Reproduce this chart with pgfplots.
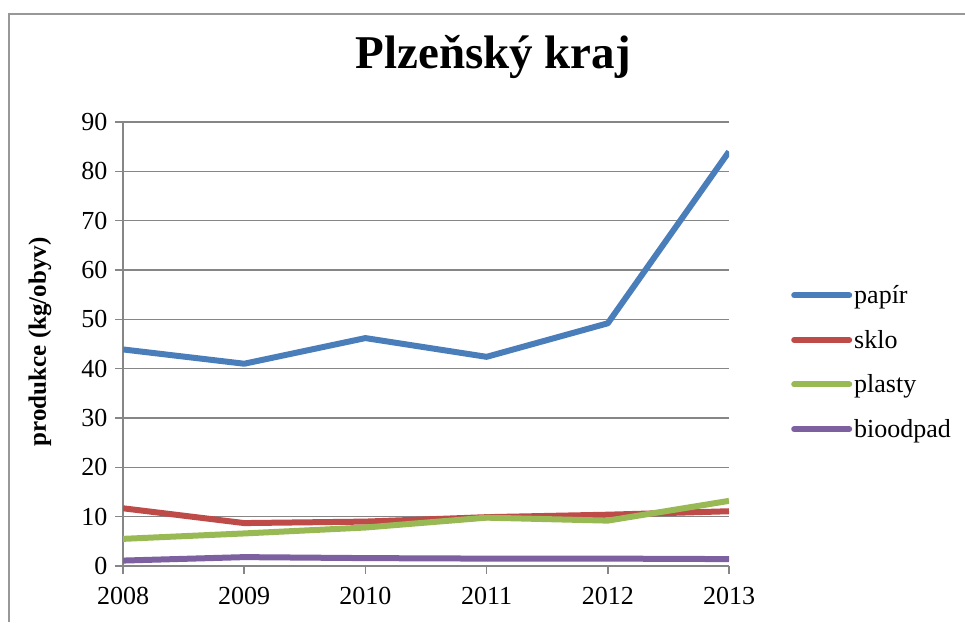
\documentclass[border=0pt]{standalone}
\usepackage{fontspec}
\setmainfont{Liberation Serif}
\usepackage{pgfplots}
\pgfplotsset{compat=1.18}
\definecolor{cpap}{HTML}{4A7EBB}
\definecolor{csk}{HTML}{BE4B48}
\definecolor{cpl}{HTML}{98B954}
\definecolor{cbio}{HTML}{7D60A0}
\definecolor{cgrid}{HTML}{868686}
\begin{document}
\begin{tikzpicture}
\useasboundingbox (0,0) rectangle (965pt,622pt);
\draw[cgrid!85, line width=2pt] (9pt,0) -- (9pt,608pt) -- (966pt,608pt);
\begin{axis}[
  at={(123pt,56pt)}, anchor=south west,
  width=606pt, height=444pt, scale only axis,
  xmin=2008, xmax=2013, ymin=0, ymax=90,
  xtick={2008,2009,2010,2011,2012,2013},
  ytick={0,10,20,30,40,50,60,70,80,90},
  axis x line*=bottom, axis y line*=left,
  axis line style={cgrid, line width=1.5pt, -},
  ymajorgrids, grid style={cgrid, line width=1.5pt},
  tick align=outside, major tick length=8pt,
  tick style={cgrid, line width=1.5pt},
  xticklabel style={/pgf/number format/1000 sep={}, yshift=-10pt},
  yticklabel style={xshift=-4pt},
  /pgf/number format/assume math mode=true,
  tick label style={font=\fontsize{26}{30}\selectfont},
  ylabel={produkce (kg/obyv)},
  ylabel style={font=\bfseries\fontsize{25}{30}\selectfont, at={(axis description cs:-0.137,0.505)}, anchor=center},
  title={Plzeňský kraj},
  title style={font=\bfseries\fontsize{47}{52}\selectfont, at={(axis description cs:0.611,1.106)}, anchor=base},
  legend style={at={(axis description cs:1,0.459)}, anchor=west, xshift=62pt, draw=none, fill=none,
    font=\fontsize{26}{30}\selectfont, row sep=21pt, inner sep=0pt},
  legend cell align=left,
  legend image code/.code={\draw[#1, line cap=round] (0pt,0pt) -- (55pt,0pt);},
  every axis plot/.append style={line width=6pt, line join=round, no markers},
]
\addplot[cpap] coordinates {(2008,43.9) (2009,41.0) (2010,46.2) (2011,42.4) (2012,49.2) (2013,84.0)};
\addlegendentry{papír}
\addplot[csk] coordinates {(2008,11.7) (2009,8.7) (2010,9.0) (2011,9.9) (2012,10.4) (2013,11.1)};
\addlegendentry{sklo}
\addplot[cpl] coordinates {(2008,5.5) (2009,6.6) (2010,7.8) (2011,9.8) (2012,9.2) (2013,13.2)};
\addlegendentry{plasty}
\addplot[cbio] coordinates {(2008,1.1) (2009,1.8) (2010,1.6) (2011,1.5) (2012,1.5) (2013,1.4)};
\addlegendentry{bioodpad}
\end{axis}
\end{tikzpicture}
\end{document}
